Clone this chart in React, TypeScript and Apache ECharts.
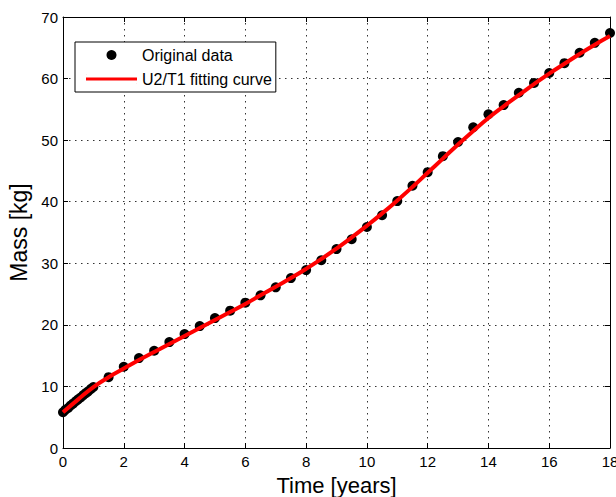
import React, { useEffect, useRef } from "react";
import * as echarts from "echarts";

const obsTime = [
  0, 0.08, 0.17, 0.25, 0.33, 0.42, 0.5, 0.58, 0.67, 0.75, 0.83, 0.92, 1.0,
  1.5, 2.0, 2.5, 3.0, 3.5, 4.0, 4.5, 5.0, 5.5, 6.0, 6.5, 7.0, 7.5, 8.0, 8.5,
  9.0, 9.5, 10.0, 10.5, 11.0, 11.5, 12.0, 12.5, 13.0, 13.5, 14.0, 14.5, 15.0,
  15.5, 16.0, 16.5, 17.0, 17.5, 18.0,
];
const obsMass = [
  5.8, 6.2, 6.5, 6.9, 7.2, 7.6, 7.9, 8.2, 8.6, 8.9, 9.2, 9.6, 9.9,
  11.5, 13.2, 14.6, 15.8, 17.2, 18.5, 19.8, 21.1, 22.3, 23.6, 24.8, 26.1, 27.6,
  28.9, 30.5, 32.3, 33.9, 35.9, 37.8, 40.1, 42.6, 44.8, 47.4, 49.7, 52.1, 54.2,
  55.7, 57.7, 59.3, 60.9, 62.5, 64.2, 65.8, 67.4,
];
const fitTime = [
  0, 0.5, 1, 1.5, 2, 2.5, 3, 3.5, 4, 4.5, 5, 5.5, 6, 6.5, 7, 7.5, 8, 8.5, 9,
  9.5, 10, 10.5, 11, 11.5, 12, 12.5, 13, 13.5, 14, 14.5, 15, 15.5, 16, 16.5, 17,
  17.5, 18,
];
const fitMass = [
  5.8, 7.9, 9.9, 11.5, 12.9, 14.3, 15.6, 16.9, 18.2, 19.5, 20.8, 22.1, 23.4,
  24.8, 26.2, 27.6, 29.1, 30.7, 32.4, 34.2, 36.1, 38.1, 40.2, 42.4, 44.7, 47.0,
  49.3, 51.5, 53.6, 55.5, 57.3, 59.1, 60.8, 62.4, 64.0, 65.5, 66.9,
];

const FONT = "Liberation Sans, Arial, Helvetica, sans-serif";
const LINE_ICON = "path://M0,0H0.3V0.3H0Z M0,3.5H51V6.5H0Z M50.7,9.7H51V10H50.7Z";
const gridLine = { show: true, lineStyle: { color: "#333", width: 1, type: [1.5, 4.5] as any } };
const axisLine = { show: true, onZero: false, lineStyle: { color: "#000", width: 1 } };
const tickIn = { show: true, inside: true, length: 5, lineStyle: { color: "#000" } };

export default function App() {
  const ref = useRef<HTMLDivElement>(null);
  useEffect(() => {
    if (!ref.current) return;
    const chart = echarts.init(ref.current, undefined, { renderer: "svg" });
    chart.setOption({
      animation: false,
      backgroundColor: "#fff",
      textStyle: { fontFamily: FONT },
      grid: {
        left: 63,
        top: 17,
        right: 6,
        bottom: 49,
        containLabel: false,
        outerBoundsMode: "none",
      },
      legend: {
        orient: "vertical",
        left: 75,
        top: 42,
        padding: [5, 4, 5, 11],
        itemGap: 8,
        itemWidth: 51,
        itemHeight: 10,
        borderColor: "#000",
        borderWidth: 1,
        borderRadius: 0,
        backgroundColor: "#fff",
        textStyle: { fontFamily: FONT, fontSize: 16, color: "#000" },
        data: [
          { name: "Original data", icon: "circle" },
          { name: "U2/T1 fitting curve", icon: LINE_ICON },
        ],
      },
      xAxis: [
        {
          type: "value",
          min: 0,
          max: 18,
          interval: 2,
          name: "Time [years]",
          nameLocation: "middle",
          nameGap: 26,
          nameTextStyle: { fontFamily: FONT, fontSize: 22, color: "#000" },
          axisLine,
          axisTick: tickIn,
          axisLabel: { fontFamily: FONT, fontSize: 15, color: "#000", margin: 6 },
          splitLine: gridLine,
        },
        {
          type: "value",
          position: "top",
          min: 0,
          max: 18,
          interval: 2,
          axisLine,
          axisTick: tickIn,
          axisLabel: { show: false },
          splitLine: { show: false },
        },
      ],
      yAxis: [
        {
          type: "value",
          min: 0,
          max: 70,
          interval: 10,
          name: "Mass [kg]",
          nameLocation: "middle",
          nameGap: 31,
          nameTextStyle: { fontFamily: FONT, fontSize: 23, color: "#000" },
          axisLine,
          axisTick: tickIn,
          axisLabel: { fontFamily: FONT, fontSize: 15, color: "#000", margin: 5 },
          splitLine: gridLine,
        },
        {
          type: "value",
          position: "right",
          min: 0,
          max: 70,
          interval: 10,
          axisLine,
          axisTick: tickIn,
          axisLabel: { show: false },
          splitLine: { show: false },
        },
      ],
      series: [
        {
          name: "Original data",
          type: "scatter",
          symbol: "circle",
          symbolSize: 10,
          itemStyle: { color: "#000", opacity: 1 },
          data: obsTime.map((t, i) => [t, obsMass[i]]),
          z: 2,
        },
        {
          name: "U2/T1 fitting curve",
          type: "line",
          smooth: true,
          symbol: "none",
          showSymbol: false,
          lineStyle: { color: "#ff0000", width: 4 },
          itemStyle: { color: "#ff0000" },
          data: fitTime.map((t, i) => [t, fitMass[i]]),
          z: 3,
        },
      ],
    });
    return () => chart.dispose();
  }, []);
  return (
    <div
      ref={ref}
      style={{ position: "absolute", left: 0, top: 0, width: 616, height: 497 }}
    />
  );
}
